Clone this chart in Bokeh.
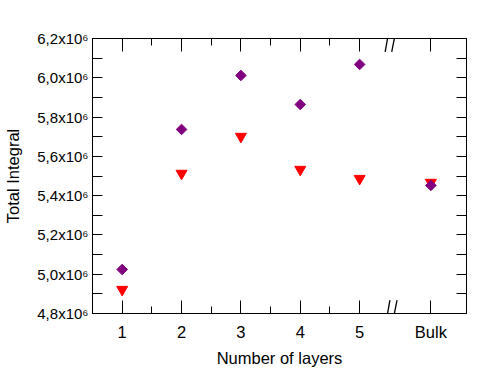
import math
from bokeh.plotting import figure
from bokeh.models import (FixedTicker, LinearAxis, CustomJSTickFormatter, Range1d)
from bokeh.embed import file_html
from bokeh.resources import INLINE

# ---- data ----
layers = [1, 2, 3, 4, 5]
bulk_x = 6.2
x_pos = layers + [bulk_x]
series_diamond = [5.024e6, 5.737e6, 6.012e6, 5.864e6, 6.068e6, 5.452e6]
series_triangle = [4.922e6, 5.513e6, 5.701e6, 5.533e6, 5.487e6, 5.467e6]
x_ticks = [1, 2, 3, 4, 5, bulk_x]
x_tick_labels = ["1", "2", "3", "4", "5", "Bulk"]
x_minor = [1.5, 2.5, 3.5, 4.5]
y_ticks = [4.8e6, 5.0e6, 5.2e6, 5.4e6, 5.6e6, 5.8e6, 6.0e6, 6.2e6]
y_minor = [4.9e6, 5.1e6, 5.3e6, 5.5e6, 5.7e6, 5.9e6, 6.1e6]
break_x = 5.56
FONT = "Liberation Sans"

p = figure(frame_width=374, frame_height=275, output_backend="svg",
           toolbar_location=None, x_range=Range1d(0.5, 6.8),
           y_range=Range1d(4.8e6, 6.2e6), x_axis_location=None,
           y_axis_location=None,
           min_border_left=92, min_border_right=12, min_border_top=38,
           min_border_bottom=62)
p.xgrid.visible = False
p.ygrid.visible = False
p.outline_line_color = "black"
p.background_fill_color = "white"
p.border_fill_color = "white"

ylab = CustomJSTickFormatter(code="return (tick/1e6).toFixed(1).replace('.', ',') + 'x10\u2076';")
blank = CustomJSTickFormatter(code="return '';")


def xaxis(loc, labels):
    ax = LinearAxis(ticker=FixedTicker(ticks=x_ticks, minor_ticks=x_minor))
    ax.major_tick_in = 13
    ax.major_tick_out = 0
    ax.minor_tick_in = 7
    ax.minor_tick_out = 0
    ax.axis_line_color = "black"
    ax.major_tick_line_color = "black"
    ax.minor_tick_line_color = "black"
    if labels:
        ax.major_label_overrides = dict(zip(x_ticks, x_tick_labels))
        ax.major_label_text_font = FONT
        ax.major_label_text_font_size = "16.5px"
        ax.major_label_text_color = "black"
        ax.major_label_standoff = 9
        ax.axis_label = "Number of layers"
        ax.axis_label_text_font = FONT
        ax.axis_label_text_font_size = "16.5px"
        ax.axis_label_text_font_style = "normal"
        ax.axis_label_text_color = "black"
        ax.axis_label_standoff = 5
    else:
        ax.formatter = blank
        ax.major_label_text_font_size = "0px"
    p.add_layout(ax, loc)


def yaxis(loc, labels):
    ax = LinearAxis(ticker=FixedTicker(ticks=y_ticks, minor_ticks=y_minor))
    ax.major_tick_in = 10
    ax.major_tick_out = 0
    ax.minor_tick_in = 10
    ax.minor_tick_out = 0
    ax.axis_line_color = "black"
    if labels:
        ax.formatter = ylab
        ax.major_label_text_font = FONT
        ax.major_label_text_font_size = "15px"
        ax.major_label_text_color = "black"
        ax.major_label_standoff = 4
        ax.axis_label = "Total Integral"
        ax.axis_label_text_font = FONT
        ax.axis_label_text_font_size = "16.5px"
        ax.axis_label_text_font_style = "normal"
        ax.axis_label_text_color = "black"
        ax.axis_label_standoff = 12
    else:
        ax.formatter = blank
        ax.major_label_text_font_size = "0px"
    p.add_layout(ax, loc)


xaxis("below", True)
xaxis("above", False)
yaxis("left", True)
yaxis("right", False)

p.scatter(x_pos, series_triangle, marker="inverted_triangle", size=11,
          fill_color="#FF0000", line_color="#FF0000")
p.scatter(x_pos, series_diamond, marker="square", size=7.5, angle=math.pi / 4,
          fill_color="#800080", line_color="#800080")

# axis-break marks at top and bottom
dy = 0.068e6
for yb in (4.8e6, 6.2e6):
    p.segment(x0=[break_x - 0.13, break_x - 0.02], y0=[yb - dy, yb - dy],
              x1=[break_x - 0.05, break_x + 0.07], y1=[yb + dy, yb + dy],
              line_color="black", line_width=1.3)

open("out.html", "w").write(file_html(p, INLINE))
